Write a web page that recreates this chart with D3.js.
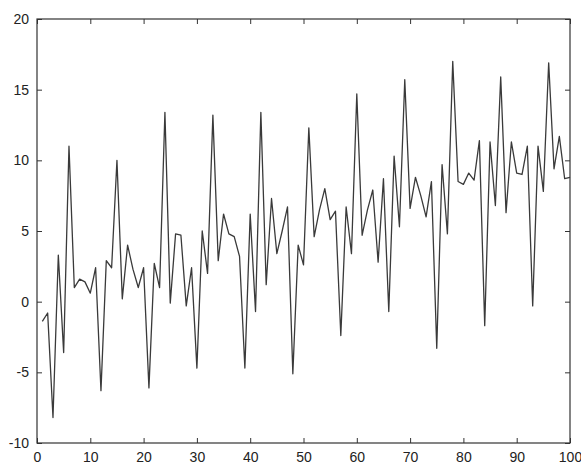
<html>
<meta charset="utf-8">
<body style="margin:0;background:#fff">
<script src="https://d3js.org/d3.v7.min.js"></script>
<div id="my_dataviz"></div>
<script>

// values, one per x = 1..100
var xValues = d3.range(1, 101)
var yValues = [
  -1.4, -0.8, -8.2, 3.3, -3.6, 11.0, 1.0, 1.6, 1.4, 0.6,
  2.4, -6.3, 2.9, 2.4, 10.0, 0.2, 4.0, 2.3, 1.0, 2.4,
  -6.1, 2.7, 1.0, 13.4, -0.1, 4.8, 4.7, -0.3, 2.4, -4.7,
  5.0, 2.0, 13.2, 2.9, 6.2, 4.8, 4.6, 3.2, -4.7, 6.2,
  -0.7, 13.4, 1.2, 7.3, 3.4, 5.0, 6.7, -5.1, 4.0, 2.6,
  12.3, 4.6, 6.5, 8.0, 5.8, 6.4, -2.4, 6.7, 3.4, 14.7,
  4.7, 6.5, 7.9, 2.8, 8.7, -0.7, 10.3, 5.3, 15.7, 6.6,
  8.8, 7.5, 6.0, 8.5, -3.3, 9.7, 4.8, 17.0, 8.5, 8.3,
  9.1, 8.6, 11.4, -1.7, 11.3, 6.8, 15.9, 6.3, 11.3, 9.1,
  9.0, 11.0, -0.3, 11.0, 7.8, 16.9, 9.4, 11.7, 8.7, 8.8
]
var xTicks = [0, 10, 20, 30, 40, 50, 60, 70, 80, 90, 100]
var yTicks = [-10, -5, 0, 5, 10, 15, 20]

var margin = {top: 19, right: 11, bottom: 22, left: 37},
    width = 581 - margin.left - margin.right,
    height = 465 - margin.top - margin.bottom

var svg = d3.select("#my_dataviz")
  .append("svg")
    .attr("width", 581)
    .attr("height", 465)
  .append("g")
    .attr("transform", "translate(" + margin.left + "," + margin.top + ")")

var x = d3.scaleLinear().domain([0, 100]).range([0, width])
var y = d3.scaleLinear().domain([-10, 20]).range([height, 0])

var axisColor = "#333"
var tickLen = 5
// plain hyphen for negatives, like the original
var fmt = function(d) { return String(d) }

// axes with inward ticks on all four sides (matlab look)
function styleAxis(g) {
  g.select(".domain").remove()
  g.selectAll("line").attr("stroke", axisColor)
  g.selectAll("text")
    .attr("fill", "#222")
    .style("font-family", "Liberation Sans, Arial, sans-serif")
    .style("font-size", "14px")
}

svg.append("g")
  .attr("transform", "translate(0," + height + ")")
  .call(d3.axisBottom(x).tickValues(xTicks).tickFormat(fmt).tickSizeInner(-tickLen).tickSizeOuter(0).tickPadding(9))
  .call(styleAxis)

svg.append("g")
  .call(d3.axisTop(x).tickValues(xTicks).tickSizeInner(-tickLen).tickSizeOuter(0).tickFormat(""))
  .call(styleAxis)

svg.append("g")
  .call(d3.axisLeft(y).tickValues(yTicks).tickFormat(fmt).tickSizeInner(-tickLen).tickSizeOuter(0).tickPadding(8))
  .call(styleAxis)

svg.append("g")
  .attr("transform", "translate(" + width + ",0)")
  .call(d3.axisRight(y).tickValues(yTicks).tickSizeInner(-tickLen).tickSizeOuter(0).tickFormat(""))
  .call(styleAxis)

// frame
svg.append("rect")
  .attr("width", width)
  .attr("height", height)
  .attr("fill", "none")
  .attr("stroke", axisColor)
  .attr("stroke-width", 1.2)

// the series
var data = xValues.map(function(d, i) { return {x: d, y: yValues[i]} })

svg.append("path")
  .datum(data)
  .attr("d", d3.line()
    .x(function(d) { return x(d.x) })
    .y(function(d) { return y(d.y) })
  )
  .attr("fill", "none")
  .attr("stroke", "#3a3a3a")
  .attr("stroke-width", 1.3)
  .attr("stroke-linejoin", "round")

</script>
</body>
</html>
